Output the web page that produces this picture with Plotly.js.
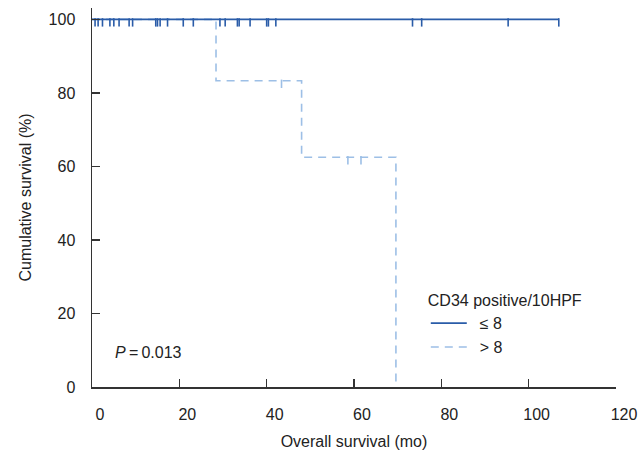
<!DOCTYPE html>
<html>
<head>
<meta charset="utf-8">
<script src="https://cdn.plot.ly/plotly-3.0.1.min.js"></script>
<style>html,body{margin:0;padding:0;background:#fff;}#chart{width:643px;height:456px;}</style>
</head>
<body>
<div id="chart"></div>
<script>
// ---- data ----
var lowTimes = [0, 106.9];
var lowSurv = [100, 100];
var lowCensorTimes = [0.7, 1.4, 2.4, 4.1, 5.0, 6.2, 8.5, 9.3, 14.6, 15.0, 15.6, 17.3, 20.9, 23.2,
  29.3, 30.5, 33.3, 33.7, 36.2, 40.0, 40.4, 42.1, 73.4, 75.5, 95.3, 106.9];
var lowCensorSurv = lowCensorTimes.map(function(){ return 100; });

var highTimes = [0, 28.4, 48.0, 69.6];
var highSurv = [100, 83.3, 62.5, 0];
var highCensorTimes = [43.4, 58.6, 61.6];
var highCensorSurv = [83.3, 62.5, 62.5];

var xTicks = [0, 20, 40, 60, 80, 100, 120];
var yTicks = [0, 20, 40, 60, 80, 100];
var legendTitle = 'CD34 positive/10HPF';
var lowName = '\u2002\u2264 8';
var highName = '\u2002> 8';
var pText = '<i>P</i>\u2009=\u20090.013';

// ---- styling ----
var FONT = "'Liberation Sans', Arial, sans-serif";
var darkBlue = '#2a5ca8';
var lightBlue = '#9dbfe6';
var yRange = [0, 103.1];
var plotH = 456 - 8 - 69;
var tickPx = 3; // censor tick hangs below the curve
var off = tickPx * (yRange[1] - yRange[0]) / plotH;
function shift(arr){ return arr.map(function(v){ return v - off; }); }

var traces = [
  {x: highTimes, y: highSurv, mode: 'lines', line: {shape: 'hv', color: lightBlue, width: 1.6, dash: '8px,6px'},
   name: highName, legendgroup: 'h', legendrank: 2},
  {x: highCensorTimes, y: shift(highCensorSurv), mode: 'markers', showlegend: false, legendgroup: 'h',
   marker: {symbol: 'line-ns', size: 6, line: {color: lightBlue, width: 1.6}}},
  {x: lowTimes, y: lowSurv, mode: 'lines', line: {shape: 'hv', color: darkBlue, width: 1.6},
   name: lowName, legendgroup: 'l', legendrank: 1},
  {x: lowCensorTimes, y: shift(lowCensorSurv), mode: 'markers', showlegend: false, legendgroup: 'l',
   marker: {symbol: 'line-ns', size: 6, line: {color: darkBlue, width: 1.6}}}
];

var layout = {
  width: 643, height: 456,
  margin: {l: 92, r: 27, t: 8, b: 69, pad: 0},
  paper_bgcolor: '#fff', plot_bgcolor: '#fff',
  font: {family: FONT, size: 16, color: '#222'},
  showlegend: true,
  legend: {x: 0.637, y: 0.268, xanchor: 'left', yanchor: 'top', bgcolor: 'rgba(0,0,0,0)',
    title: {text: legendTitle, side: 'top', font: {size: 16, family: FONT}},
    font: {size: 16, family: FONT}, traceorder: 'normal', tracegroupgap: 0, itemwidth: 36},
  xaxis: {range: [0, 120], tickvals: xTicks, ticks: 'inside', ticklen: 8, tickcolor: '#333', tickwidth: 1.2,
    showline: true, linecolor: '#333', linewidth: 1.5, showgrid: false, zeroline: false,
    ticklabelshift: 8, ticklabelstandoff: 12, tickfont: {size: 16},
    title: {text: 'Overall survival (mo)', font: {size: 16}, standoff: 14}},
  yaxis: {range: yRange, tickvals: yTicks, ticks: 'inside', ticklen: 8, tickcolor: '#333', tickwidth: 1.2,
    showline: true, linecolor: '#333', linewidth: 1.5, showgrid: false, zeroline: false,
    ticklabelstandoff: 12, tickfont: {size: 16},
    title: {text: 'Cumulative survival (%)', font: {size: 16}, standoff: 13}},
  annotations: [{xref: 'paper', yref: 'paper', x: 0.108, y: 0.09, xanchor: 'center', yanchor: 'middle',
    text: pText, showarrow: false, font: {size: 16, family: FONT}}]
};

Plotly.newPlot('chart', traces, layout, {displayModeBar: false, staticPlot: true});
</script>
</body>
</html>
